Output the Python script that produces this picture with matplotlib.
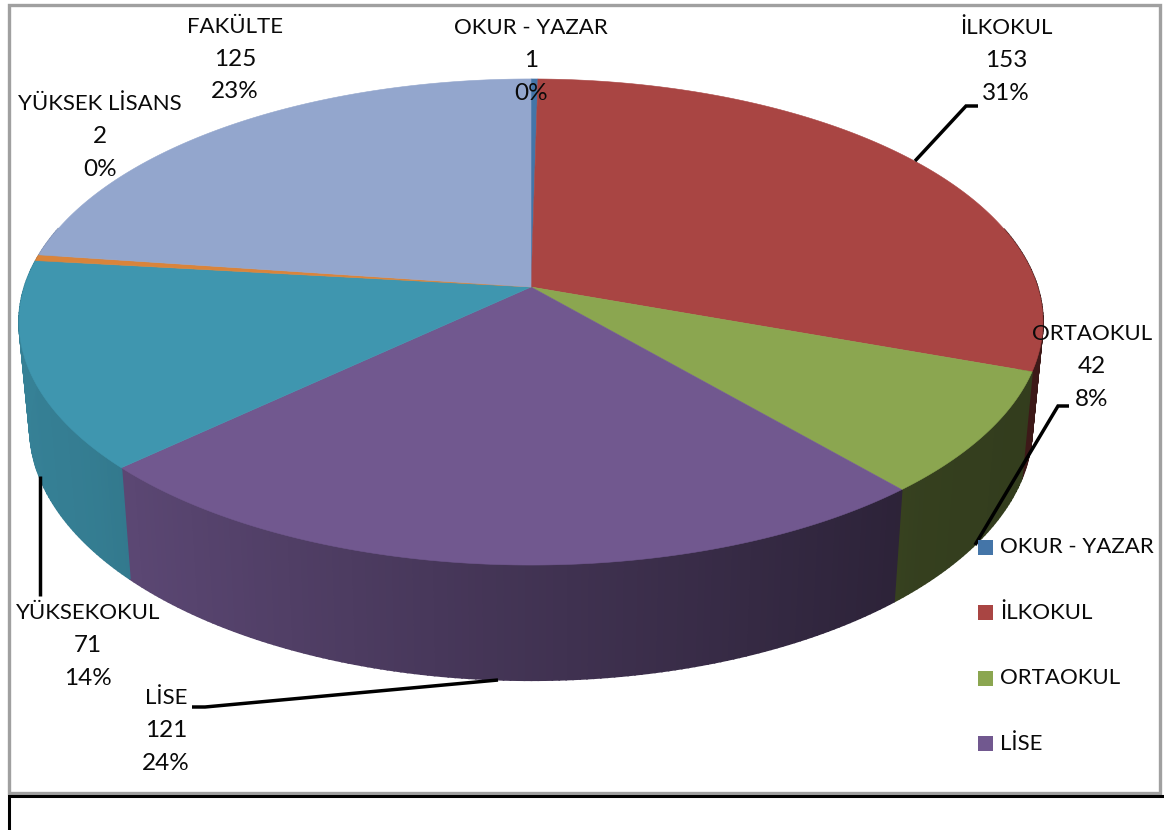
import numpy as np
import matplotlib
matplotlib.use("Agg")
import matplotlib.pyplot as plt
from matplotlib.patches import Polygon, Rectangle

plt.rcParams['font.family'] = ['Lato', 'DejaVu Sans']

categories = ["OKUR - YAZAR", "İLKOKUL", "ORTAOKUL", "LİSE", "YÜKSEKOKUL", "YÜKSEK LİSANS", "FAKÜLTE"]
counts = [1, 153, 42, 121, 71, 2, 125]
percent_labels = ["0%", "31%", "8%", "24%", "14%", "0%", "23%"]
slice_shares = [0.25, 30.25, 8.2, 24.3, 13.8, 0.4, 22.8]
colors = ["#4475A8", "#A94543", "#8BA650", "#71588F", "#3F96AF", "#D9843B", "#93A6CD"]
legend_entries = categories[:4]

W, H = 1164, 830
fig = plt.figure(figsize=(W / 100, H / 100), dpi=100)
ax = fig.add_axes([0, 0, 1, 1])
ax.set_xlim(0, W)
ax.set_ylim(H, 0)
ax.axis("off")

# frame
ax.add_patch(Rectangle((8.5, 5.5), 1151, 787, fc="white", ec="#A0A0A0", lw=2.4, zorder=0))
ax.plot([9, 9, W], [H, 795.5, 795.5], color="black", lw=2.2, zorder=1, solid_joinstyle="miter")

# perspective mapping of the pie
k = 0.144
cx, cy, A, B = 531, 287, 506.6, 238
cy2, A2, B2 = 391, 496, 247.6


def top(theta):
    X, Y = np.sin(theta), np.cos(theta)
    w = 1 + k * Y
    return cx + A * X / w, cy - B * Y / w


def bottom(theta):
    X, Y = np.sin(theta), np.cos(theta)
    w = 1 + k * Y
    return cx + A2 * X / w, cy2 - B2 * Y / w


def shade(hexcolor, theta):
    f = np.interp(np.sin(theta), [-1, -0.8, 0, 0.7, 1], [0.86, 0.83, 0.58, 0.38, 0.36])
    return tuple(c * f for c in matplotlib.colors.to_rgb(hexcolor))


fractions = np.array(slice_shares) / np.sum(slice_shares)
edges = np.concatenate([[0], np.cumsum(fractions)]) * 2 * np.pi

# side wall
for i, col in enumerate(colors):
    t0, t1 = edges[i], edges[i + 1]
    n = max(2, int((t1 - t0) / 0.012))
    th = np.linspace(t0, t1, n + 1)
    for a, b in zip(th[:-1], th[1:]):
        if np.cos((a + b) / 2) > 0.25:
            continue
        xa, ya = top(a)
        xb, yb = top(b)
        xc, yc = bottom(b)
        xd, yd = bottom(a)
        c = shade(col, (a + b) / 2)
        ax.add_patch(Polygon([(xa, ya), (xb, yb), (xc, yc), (xd, yd)], fc=c, ec=c, lw=1.2, zorder=2))

# top face
for i, col in enumerate(colors):
    th = np.linspace(edges[i], edges[i + 1], max(3, int((edges[i + 1] - edges[i]) / 0.01)))
    xs, ys = top(th)
    pts = np.column_stack([np.r_[cx, xs], np.r_[cy, ys]])
    ax.add_patch(Polygon(pts, fc=col, ec=col, lw=0.4, zorder=3))

# leader lines
leaders = {
    1: ([978, 966, 915], [106, 106, 161]),
    2: ([1069, 1058, 975], [406, 406, 545]),
    3: ([192, 205, 498], [707, 707, 680]),
    4: ([40, 40], [476, 596]),
}
for xs, ys in leaders.values():
    ax.plot(xs, ys, color="black", lw=2.5, zorder=4, solid_joinstyle="miter", solid_capstyle="butt")

# data labels
label_pos = [(531, 28), (1006, 28), (1092, 334), (166, 698), (88, 613), (100, 104), (235, 27)]
FS = 16
FS_NUM = 17.5
for name, n, pct, (x, y) in zip(categories, counts, percent_labels, label_pos):
    ax.text(x, y, name, ha="center", va="center", fontsize=FS, color="#0A0A0A", zorder=5)
    ax.text(x, y + 32.5, str(n), ha="center", va="center", fontsize=FS_NUM, color="#0A0A0A", zorder=5)
    ax.text(x, y + 65, pct, ha="center", va="center", fontsize=FS_NUM, color="#0A0A0A", zorder=5)

# legend (only the entries that fit are shown)
for j, name in enumerate(legend_entries):
    y = 547 + j * 65.5
    ax.add_patch(Rectangle((978, y - 7.5), 15, 15, fc=colors[j], ec="none", zorder=5))
    ax.text(1000, y, name, ha="left", va="center", fontsize=FS, color="#0A0A0A", zorder=5)

fig.savefig("out.png", dpi=100)
